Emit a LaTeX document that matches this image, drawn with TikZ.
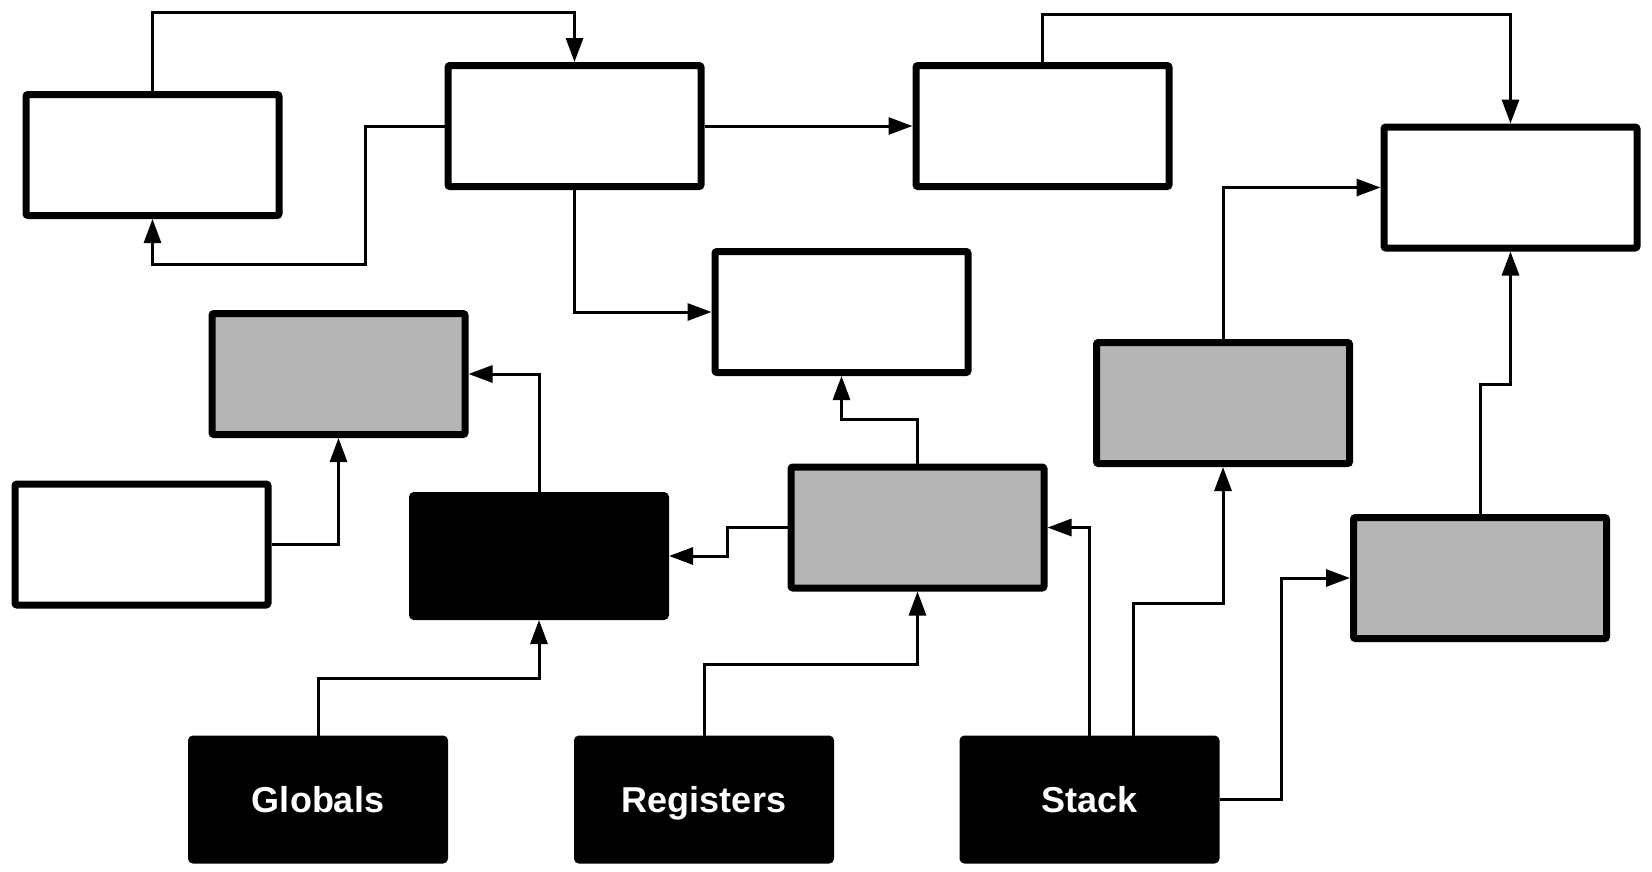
\documentclass[tikz,border=0pt]{standalone}
\usepackage{fontspec}
\setmainfont{Liberation Sans}
\usepackage{xcolor}
\usetikzlibrary{arrows.meta}

\definecolor{boxgray}{RGB}{181,181,181}

\tikzset{
  plainbox/.style={draw=black, fill=white, line width=7pt, rounded corners=2pt,
    minimum width=253pt, minimum height=121pt, inner sep=0pt},
  shadebox/.style={plainbox, fill=boxgray},
  darkbox/.style={plainbox, fill=black, text=white, text height=26pt, text depth=0pt,
    font=\fontsize{36}{40}\selectfont\bfseries},
  conn/.style={draw=black, line width=3pt, -{Triangle[length=24pt,width=17pt]}}
}

\begin{document}
\begin{tikzpicture}[x=1pt,y=1pt,yscale=-1,xscale=1]
\useasboundingbox (0,0) rectangle (1652,871);

%Shape: Rectangles, white
\node [plainbox] (A) at (152.5,155) {};
\node [plainbox] (B) at (574.5,126) {};
\node [plainbox] (C) at (1042.5,126) {};
\node [plainbox] (D) at (1510.5,187.5) {};
\node [plainbox] (E) at (841.5,312) {};
\node [plainbox] (G) at (141.5,544.5) {};
%Shape: Rectangles, gray
\node [shadebox] (F) at (338.5,374) {};
\node [shadebox] (I) at (917.5,527.5) {};
\node [shadebox] (J) at (1223,403) {};
\node [shadebox] (K) at (1480,578) {};
%Shape: Rectangles, black
\node [darkbox] (H) at (539,556) {};
\node [darkbox] (Globals) at (318,799.5) {Globals};
\node [darkbox] (Registers) at (704,799.5) {Registers};
\node [darkbox] (Stack) at (1089.5,799.5) {Stack};

%Straight Lines, top row
\draw [conn] (A.north) -- ++(0,-79) -| (B.north);
\draw [conn] (B.west) -| (365,264) -| (A.south);
\draw [conn] (B.east) -- (C.west);
\draw [conn] (B.south) |- (E.west);
\draw [conn] (C.north) -- ++(0,-48) -| (D.north);
\draw [conn] (J.north) |- (D.west);
\draw [conn] (K.north) -- ++(0,-130) -| (D.south);

%Straight Lines, middle row
\draw [conn] (H.north) |- (F.east);
\draw [conn] (G.east) -| (F.south);
\draw [conn] (I.west) -- ++(-60,0) |- (H.east);
\draw [conn] (I.north) -- ++(0,-44) -| (E.south);

%Straight Lines, from the bottom row
\draw [conn] (Globals.north) -- ++(0,-57) -| (H.south);
\draw [conn] (Registers.north) -- ++(0,-71) -| (I.south);
\draw [conn] (Stack.north) |- (I.east);
\draw [conn] ([xshift=43.5pt]Stack.north) -- ++(0,-132) -| (J.south);
\draw [conn] (Stack.east) -- ++(62,0) |- (K.west);

\end{tikzpicture}
\end{document}
